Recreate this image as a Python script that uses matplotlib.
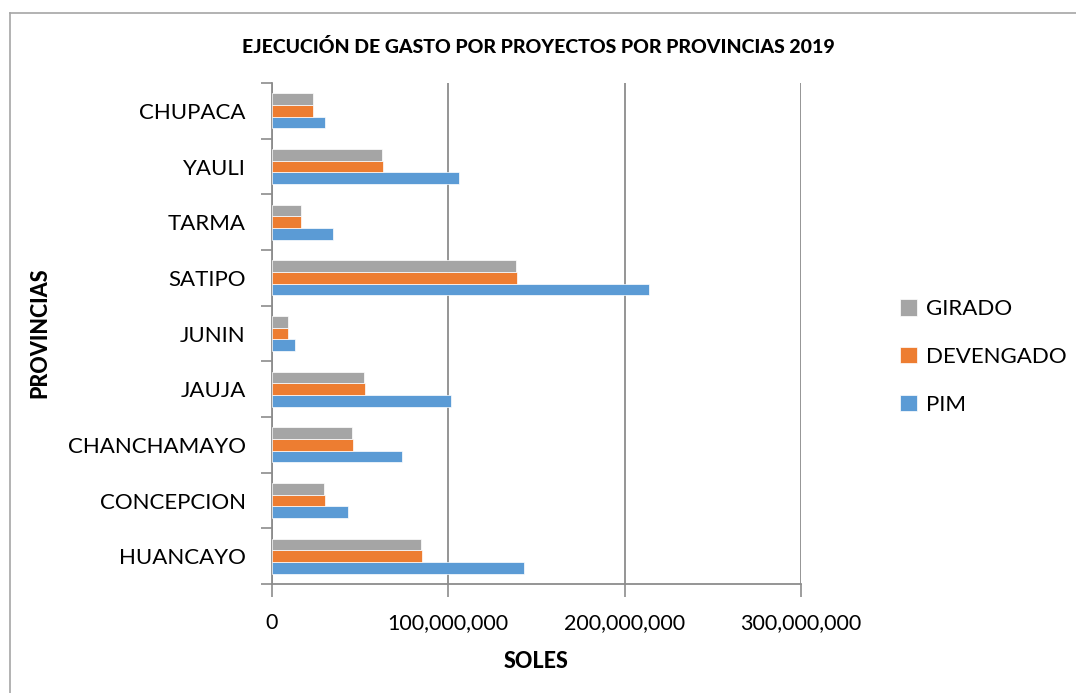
import numpy as np
import matplotlib.pyplot as plt
from matplotlib.lines import Line2D
from matplotlib.ticker import FuncFormatter

provincias = ["HUANCAYO", "CONCEPCION", "CHANCHAMAYO", "JAUJA", "JUNIN",
              "SATIPO", "TARMA", "YAULI", "CHUPACA"]
pim = [142.8e6, 43.3e6, 74.0e6, 101.5e6, 13.2e6, 213.6e6, 34.5e6, 105.9e6, 29.9e6]
devengado = [85.1e6, 29.9e6, 45.8e6, 53.0e6, 9.1e6, 138.8e6, 16.7e6, 62.9e6, 23.3e6]
girado = [84.7e6, 29.5e6, 45.4e6, 52.4e6, 9.1e6, 138.2e6, 16.3e6, 62.5e6, 23.3e6]

plt.rcParams['font.family'] = ['Lato', 'DejaVu Sans']

W, H = 1076, 693
fig = plt.figure(figsize=(W / 100, H / 100), dpi=100)
ax = fig.add_axes([272 / W, 1 - 584 / H, (801 - 272) / W, (584 - 83) / H])

# chart frame (top and left edges visible)
fig.add_artist(Line2D([10 / W, 10 / W], [0, 1 - 13 / H], transform=fig.transFigure, color="#a6a6a6", lw=1.2))
fig.add_artist(Line2D([10 / W, 1], [1 - 13 / H, 1 - 13 / H], transform=fig.transFigure, color="#a6a6a6", lw=1.2))

y = np.arange(len(provincias))
h = 0.21
ax.barh(y - h, pim, h, color="#5B9BD5", edgecolor="white", lw=0.5, label="PIM", zorder=3)
ax.barh(y, devengado, h, color="#ED7D31", edgecolor="white", lw=0.5, label="DEVENGADO", zorder=3)
ax.barh(y + h, girado, h, color="#A5A5A5", edgecolor="white", lw=0.5, label="GIRADO", zorder=3)

ax.set_xlim(0, 300e6)
ax.set_ylim(-0.5, len(provincias) - 0.5)
ax.set_xticks([0, 100e6, 200e6, 300e6])
ax.xaxis.set_major_formatter(FuncFormatter(lambda v, p: "{:,.0f}".format(v)))
ax.grid(axis="x", color="#8c8c8c", lw=1.3, zorder=0)

ax.set_yticks(np.arange(-0.5, len(provincias), 1.0))
ax.set_yticklabels([])
ax.set_yticks(y, minor=True)
ax.set_yticklabels(provincias, minor=True, fontsize=16)
ax.tick_params(axis="y", which="minor", length=0, pad=19)
ax.tick_params(axis="y", which="major", length=8, color="#8c8c8c", width=1.2)
ax.tick_params(axis="x", length=9, color="#8c8c8c", width=1.2, labelsize=15.5, pad=12)

for s in ["top", "right"]:
    ax.spines[s].set_visible(False)
for s in ["left", "bottom"]:
    ax.spines[s].set_color("#8c8c8c")
    ax.spines[s].set_linewidth(1.3)

fig.text(538 / W, 1 - 47 / H, "EJECUCIÓN DE GASTO POR PROYECTOS POR PROVINCIAS 2019",
         ha="center", va="center", fontsize=14, fontweight="black")
fig.text(536 / W, 1 - 661 / H, "SOLES", ha="center", va="center", fontsize=15.5, fontweight="black")
fig.text(40 / W, 1 - 333 / H, "PROVINCIAS", ha="center", va="center", rotation=90,
         fontsize=15.5, fontweight="black")

handles, labels = ax.get_legend_handles_labels()
fig.legend(handles[::-1], labels[::-1], loc="center left", bbox_to_anchor=(880 / W, 1 - 357 / H),
           frameon=False, fontsize=16, handlelength=0.75, handleheight=0.75,
           handletextpad=0.4, labelspacing=1.25)

fig.savefig("out.png", dpi=100)
